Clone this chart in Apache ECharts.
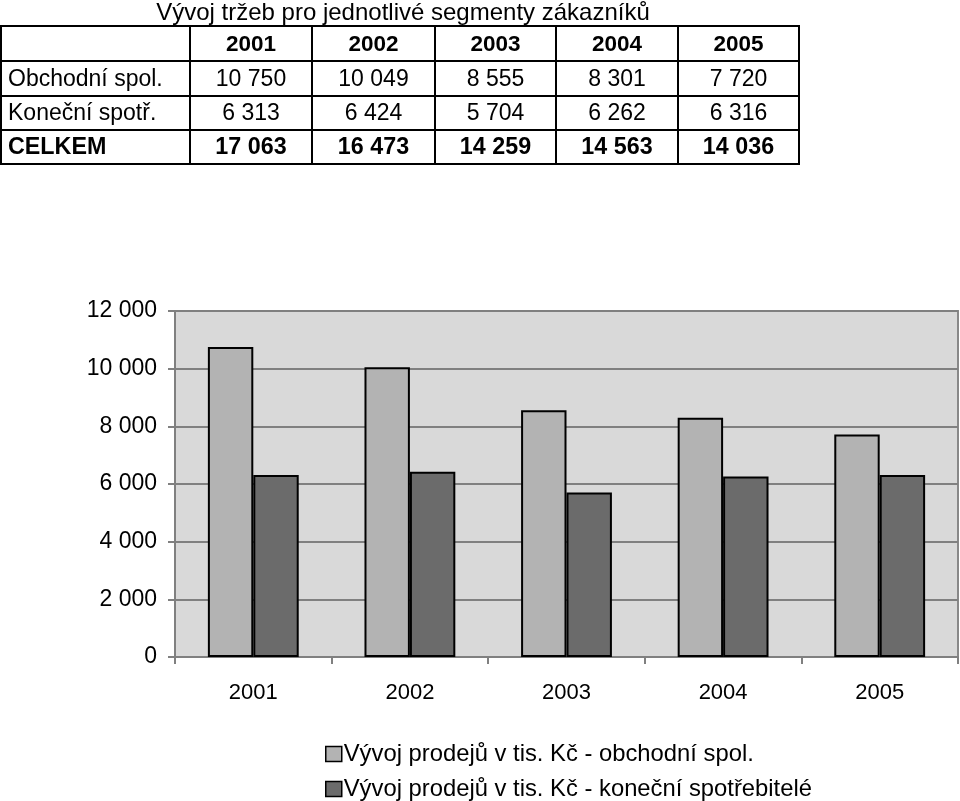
<!DOCTYPE html>
<html>
<head>
<meta charset="utf-8">
<script src="https://cdn.jsdelivr.net/npm/echarts@6/dist/echarts.min.js"></script>
<style>
html,body{margin:0;padding:0;background:#fff;}
#chart{width:960px;height:801px;}
</style>
</head>
<body>
<div id="chart"></div>
<script>
// ---- data ----
var title = 'Vývoj tržeb pro jednotlivé segmenty zákazníků';
var years = ['2001', '2002', '2003', '2004', '2005'];
var rowLabels = ['Obchodní spol.', 'Koneční spotř.', 'CELKEM'];
var obchodni = [10750, 10049, 8555, 8301, 7720];
var konecni = [6313, 6424, 5704, 6262, 6316];
var celkem = [17063, 16473, 14259, 14563, 14036];
var seriesNames = ['Vývoj prodejů v tis. Kč - obchodní spol.', 'Vývoj prodejů v tis. Kč - koneční spotřebitelé'];
var yTicks = [0, 2000, 4000, 6000, 8000, 10000, 12000];

var FONT = '"Liberation Sans", Arial, sans-serif';
function fmt(v) {
  return String(v).replace(/\B(?=(\d{3})+(?!\d))/g, ' ');
}

// ---- table as graphics ----
var colX = [0, 190, 312, 435, 556, 678, 799];
var rowY = [26, 61, 96, 130, 164];
var tableRows = [
  { label: '', values: years.slice(), bold: true, size: 22.5 },
  { label: rowLabels[0], values: obchodni.map(fmt), bold: false, size: 23 },
  { label: rowLabels[1], values: konecni.map(fmt), bold: false, size: 23 },
  { label: rowLabels[2], values: celkem.map(fmt), bold: true, size: 23.3 }
];
function txt(x, y, s, size, bold, align) {
  return { type: 'text', x: x, y: y, z: 10,
    style: { text: s, fontFamily: FONT, fontSize: size, fontWeight: bold ? 'bold' : 'normal', fill: '#000',
      align: align || 'center', verticalAlign: 'middle' } };
}
var g = [];
g.push(txt(403, 13, title, 24, false, 'center'));
for (var r = 0; r < rowY.length; r++) {
  g.push({ type: 'line', shape: { x1: 0, y1: rowY[r], x2: colX[colX.length - 1] + 1, y2: rowY[r] }, style: { stroke: '#000', lineWidth: 2 } });
}
for (var c = 0; c < colX.length; c++) {
  var xx = c === 0 ? 1 : colX[c];
  g.push({ type: 'line', shape: { x1: xx, y1: rowY[0], x2: xx, y2: rowY[rowY.length - 1] }, style: { stroke: '#000', lineWidth: 2 } });
}
tableRows.forEach(function (row, i) {
  var cy = (rowY[i] + rowY[i + 1]) / 2 + 1;
  if (row.label) {
    g.push(txt(8, cy, row.label, row.size, row.bold, 'left'));
  }
  row.values.forEach(function (v, j) {
    var cx = (colX[j + 1] + colX[j + 2]) / 2;
    g.push(txt(cx, cy, v, row.size, row.bold, 'center'));
  });
});

var legendCommon = {
  orient: 'vertical', left: 320, icon: 'rect',
  itemWidth: 16, itemHeight: 15,
  itemStyle: { borderWidth: 1.5, borderColor: '#000' },
  textStyle: { fontFamily: FONT, fontSize: 23.8, color: '#000', padding: [0, 0, 0, -3] }
};

var chart = echarts.init(document.getElementById('chart'), null, { renderer: 'canvas' });
chart.setOption({
  animation: false,
  backgroundColor: '#fff',
  graphic: g,
  grid: { left: 175, right: 2, top: 311, bottom: 144, show: true, backgroundColor: '#d9d9d9', borderColor: '#888', borderWidth: 2 },
  legend: [
    Object.assign({}, legendCommon, { top: 737, data: [seriesNames[0]] }),
    Object.assign({}, legendCommon, { top: 772, data: [seriesNames[1]] })
  ],
  xAxis: {
    type: 'category', data: years,
    axisLine: { lineStyle: { color: '#808080', width: 2 } },
    axisTick: { show: true, alignWithLabel: false, length: 7, lineStyle: { color: '#808080', width: 2 } },
    axisLabel: { fontFamily: FONT, fontSize: 22, color: '#000', margin: 25 }
  },
  yAxis: {
    type: 'value', min: yTicks[0], max: yTicks[yTicks.length - 1], interval: 2000,
    axisLine: { show: true, lineStyle: { color: '#808080', width: 2 } },
    axisTick: { show: true, length: 7, lineStyle: { color: '#808080', width: 2 } },
    splitLine: { lineStyle: { color: '#808080', width: 2 } },
    axisLabel: { fontFamily: FONT, fontSize: 23, color: '#000', margin: 18, formatter: function (v) { return fmt(v); } }
  },
  series: [
    { name: seriesNames[0], type: 'bar', data: obchodni, barGap: '0%', barCategoryGap: '42%',
      itemStyle: { color: '#b3b3b3', borderColor: '#000', borderWidth: 2 } },
    { name: seriesNames[1], type: 'bar', data: konecni,
      itemStyle: { color: '#6b6b6b', borderColor: '#000', borderWidth: 2 } }
  ]
});
</script>
</body>
</html>
